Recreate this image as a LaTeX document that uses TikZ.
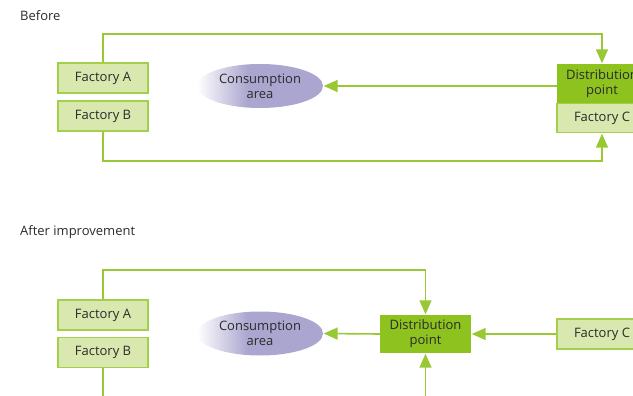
\documentclass[tikz,border=0pt]{standalone}
\usepackage{fontspec}
\setmainfont{Open Sans}
\usetikzlibrary{arrows.meta,shapes.geometric}
\definecolor{lightg}{HTML}{D8E8AF}
\definecolor{borderg}{HTML}{A3CF4A}
\definecolor{darkg}{HTML}{8DC21F}
\definecolor{lineg}{HTML}{98C935}
\definecolor{lav}{HTML}{ABA6CF}
\definecolor{txt}{HTML}{2B2B2B}
\pgfdeclarehorizontalshading{ellfade}{100bp}{color(0bp)=(white); color(25bp)=(white); color(45bp)=(lav); color(100bp)=(lav)}
\tikzset{
  lbl/.style={font=\fontsize{13}{14}\selectfont, text=txt},
  factbox/.style={draw=borderg, line width=1.3pt, fill=lightg, minimum width=90pt, minimum height=30pt, inner sep=0pt, lbl},
  distbox/.style={fill=darkg, minimum width=90pt, minimum height=39pt, inner sep=0pt, align=center, lbl, font=\fontsize{13}{15}\selectfont},
  consell/.style={ellipse, shading=ellfade, minimum width=126pt, minimum height=44pt, inner sep=0pt, align=center, lbl, font=\fontsize{13}{15}\selectfont},
  conn/.style={draw=lineg, line width=1.6pt},
  arr/.style={conn, -{Triangle[width=12pt,length=14pt]}, shorten >=0.5pt},
  title/.style={anchor=west, inner sep=0pt, font=\fontsize{13}{14}\selectfont, text=txt}
}
\begin{document}
\begin{tikzpicture}[x=1pt,y=-1pt]
\useasboundingbox (0,0) rectangle (633,396);
\clip (0,0) rectangle (633,396);
% Before
\node[title] (before) at (20,16) {Before};
\node[factbox] (fa1) at (103,78) {Factory A};
\node[factbox] (fb1) at (103,116) {Factory B};
\node[consell] (cons1) at (260,86) {Consumption\\area};
\node[distbox] (dp1) at (602,83.5) {Distribution\\point};
\node[factbox, minimum height=29pt] (fc1) at (602,118) {Factory C};
\draw[arr] (fa1.north) -- (fa1.north |- 0,34) -| (dp1.north);
\draw[arr] (dp1.west |- cons1) -- (cons1.east);
\draw[arr] (fb1.south) -- (fb1.south |- 0,161) -| (fc1.south);
% After
\node[title] (after) at (20,232) {After improvement};
\node[factbox] (fa2) at (103,315) {Factory A};
\node[factbox] (fb2) at (103,352.5) {Factory B};
\node[consell] (cons2) at (260,333.5) {Consumption\\area};
\node[distbox, minimum width=91pt, minimum height=38pt] (dp2) at (425.5,334) {Distribution\\point};
\node[factbox] (fc2) at (602,334) {Factory C};
\coordinate (bend) at (103,402);
\coordinate (bin) at (425.5,402);
\draw[arr] (fa2.north) -- (fa2.north |- 0,270) -| (dp2.north);
\draw[arr] (dp2.west) -- (cons2.east);
\draw[arr] (fc2.west) -- (dp2.east);
\draw[conn] (fb2.south) -- (bend);
\draw[arr] (bin) -- (dp2.south);
\end{tikzpicture}
\end{document}
